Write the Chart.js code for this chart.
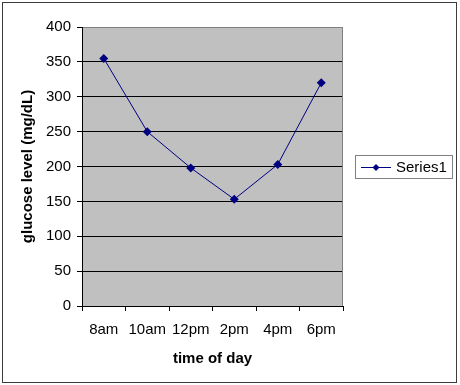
<!DOCTYPE html>
<html>
<head>
<meta charset="utf-8">
<script src="https://cdn.jsdelivr.net/npm/chart.js@4"></script>
<style>
  html, body { margin: 0; padding: 0; background: #fff; }
  #wrap { width: 460px; height: 385px; position: relative; }
</style>
</head>
<body>
<div id="wrap"><canvas id="myChart" width="460" height="385"></canvas></div>
<script>
// datos
const horas = ['8am', '10am', '12pm', '2pm', '4pm', '6pm'];
const glucosa = [355, 250, 198, 153, 203, 320];
const serie_nombre = 'Series1';
const titulo_x = 'time of day';
const titulo_y = 'glucose level (mg/dL)';

const FUENTE = 'Arial, "Liberation Sans", sans-serif';
const AZUL = '#000080';

// fondo gris del area del grafico, marco exterior y leyenda
const fondo_plugin = {
  id: 'fondo',
  beforeDraw(chart) {
    const ctx = chart.ctx;
    const a = chart.chartArea;
    ctx.save();
    ctx.fillStyle = '#fff';
    ctx.fillRect(0, 0, chart.width, chart.height);
    ctx.fillStyle = '#c0c0c0';
    ctx.fillRect(a.left, a.top, a.right - a.left, a.bottom - a.top);
    // marco exterior
    ctx.strokeStyle = '#3c3c3c';
    ctx.lineWidth = 1;
    ctx.strokeRect(2.5, 2.5, 454, 380);
    ctx.restore();
  },
  beforeDatasetsDraw(chart) {
    const ctx = chart.ctx;
    const a = chart.chartArea;
    ctx.save();
    ctx.strokeStyle = '#808080';
    ctx.lineWidth = 1;
    ctx.beginPath();
    ctx.moveTo(Math.round(a.right) - 0.5, a.top);
    ctx.lineTo(Math.round(a.right) - 0.5, a.bottom);
    ctx.stroke();
    ctx.restore();
  },
  afterDraw(chart) {
    const ctx = chart.ctx;
    ctx.save();
    // caja de la leyenda
    ctx.fillStyle = '#fff';
    ctx.fillRect(355, 155, 98, 23);
    ctx.strokeStyle = '#808080';
    ctx.lineWidth = 1;
    ctx.strokeRect(355.5, 155.5, 97, 23);
    ctx.strokeStyle = AZUL;
    ctx.beginPath();
    ctx.moveTo(361, 167.5);
    ctx.lineTo(391, 167.5);
    ctx.stroke();
    ctx.fillStyle = AZUL;
    ctx.beginPath();
    ctx.moveTo(376, 164);
    ctx.lineTo(379.5, 167.5);
    ctx.lineTo(376, 171);
    ctx.lineTo(372.5, 167.5);
    ctx.closePath();
    ctx.fill();
    ctx.fillStyle = '#000';
    ctx.font = '15px ' + FUENTE;
    ctx.textBaseline = 'middle';
    ctx.textAlign = 'left';
    ctx.fillText(serie_nombre, 396, 168);
    ctx.restore();
  }
};

const ctx = document.getElementById('myChart').getContext('2d');
const chart = new Chart(ctx, {
  type: 'line',
  data: {
    labels: horas,
    datasets: [{
      label: serie_nombre,
      data: glucosa,
      borderColor: AZUL,
      backgroundColor: AZUL,
      borderWidth: 1,
      pointStyle: 'rectRot',
      pointRadius: 4.5,
      pointBorderWidth: 0,
      tension: 0
    }]
  },
  options: {
    responsive: false,
    animation: false,
    devicePixelRatio: 1,
    layout: { padding: { left: 0, top: 27, right: 117, bottom: 0 } },
    plugins: {
      legend: { display: false },
      tooltip: { enabled: false }
    },
    scales: {
      x: {
        offset: true,
        afterFit(scale) { scale.height = 79; },
        grid: {
          offset: true,
          drawOnChartArea: false,
          drawTicks: true,
          tickLength: 5,
          tickColor: '#000'
        },
        border: { color: '#000', width: 1 },
        ticks: {
          color: '#000',
          font: { family: FUENTE, size: 15 },
          padding: 10,
          maxRotation: 0,
          autoSkip: false
        },
        title: {
          display: true,
          text: titulo_x,
          color: '#000',
          font: { family: FUENTE, size: 15, weight: 'bold' },
          padding: { top: 0, bottom: 17 }
        }
      },
      y: {
        min: 0,
        max: 400,
        afterFit(scale) { scale.width = 82; },
        grid: {
          color: (c) => (c.tick && c.tick.value === 400) ? '#808080' : '#000',
          tickColor: '#000',
          tickLength: 5
        },
        border: { color: '#000', width: 1 },
        ticks: {
          stepSize: 50,
          color: '#000',
          font: { family: FUENTE, size: 15 },
          padding: 6
        },
        title: {
          display: true,
          text: titulo_y,
          color: '#000',
          font: { family: FUENTE, size: 15, weight: 'bold' },
          padding: { top: 19, bottom: 0 }
        }
      }
    }
  },
  plugins: [fondo_plugin]
});
</script>
</body>
</html>
